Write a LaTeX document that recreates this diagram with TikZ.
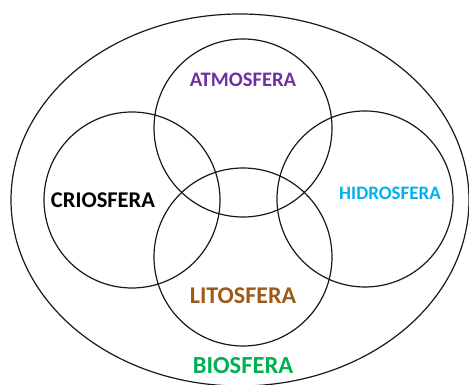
\documentclass[tikz,border=0pt]{standalone}
\usepackage{fontspec}
\setmainfont{Carlito}
\definecolor{atmo}{HTML}{7030A0}
\definecolor{hidro}{HTML}{00B0F0}
\definecolor{lito}{HTML}{9C5B18}
\definecolor{bio}{HTML}{00B050}
\begin{document}
\begin{tikzpicture}[x=1pt,y=1pt,
  ring/.style={draw=black!90, line width=1.2pt},
  lbl/.style={inner sep=0pt}]
\useasboundingbox (0,0) rectangle (469,385);
\clip (0,0) rectangle (469,385);
\draw[ring] (240,185) ellipse [x radius=229, y radius=186];
\node[ring, circle, minimum size=178pt, inner sep=0pt] (atm) at (243,257) {};
\node[ring, circle, minimum size=176pt, inner sep=0pt] (cri) at (132,185) {};
\node[ring, circle, minimum size=176pt, inner sep=0pt] (hid) at (365,186) {};
\node[ring, circle, minimum size=178pt, inner sep=0pt] (lit) at (243,128) {};
\node[lbl, text=atmo, font=\bfseries\fontsize{20.6}{24}\selectfont] (tatm) at (243,305) {ATMOSFERA};
\node[lbl, text=black, font=\bfseries\fontsize{22.5}{26}\selectfont] (tcri) at (103,185) {CRIOSFERA};
\node[lbl, text=hidro, font=\bfseries\fontsize{19}{22}\selectfont] (thid) at (390,192) {HIDROSFERA};
\node[lbl, text=lito, font=\bfseries\fontsize{24}{28}\selectfont] (tlit) at (243,89) {LITOSFERA};
\node[lbl, text=bio, font=\bfseries\fontsize{24.5}{28}\selectfont] (tbio) at (243,19) {BIOSFERA};
\end{tikzpicture}
\end{document}
